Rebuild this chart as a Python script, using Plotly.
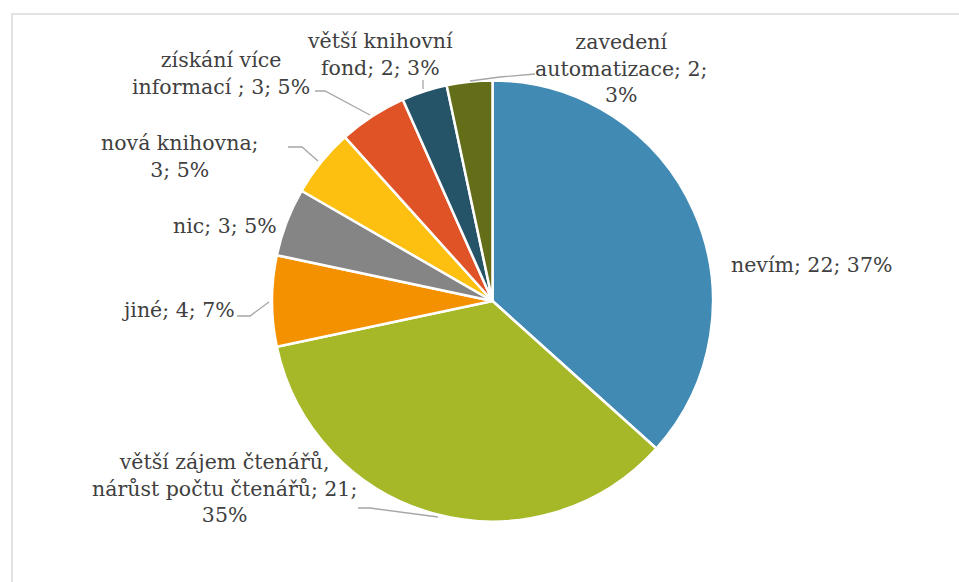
import plotly.graph_objects as go

# ---- data ----
categories = ["nevím", "větší zájem čtenářů,<br>nárůst počtu čtenářů", "jiné", "nic",
              "nová knihovna", "získání více<br>informací ", "větší knihovní<br>fond",
              "zavedení<br>automatizace"]
values = [22, 21, 4, 3, 3, 3, 2, 2]
colors = ["#418AB3", "#A6B727", "#F49100", "#858585", "#FDC010", "#DF5327", "#255469", "#646E18"]
# how each label is broken over lines: {c}=category, {v}=value, {p}=percent
templates = ["{c}; {v}; {p}%", "{c}; {v};<br>{p}%", "{c}; {v}; {p}%", "{c}; {v}; {p}%",
             "{c};<br>{v}; {p}%", "{c}; {v}; {p}%", "{c}; {v}; {p}%", "{c}; {v};<br>{p}%"]

W, H = 959, 582
total = sum(values)
texts = [t.format(c=c, v=v, p=round(v / total * 100)) for t, c, v in zip(templates, categories, values)]

# label centre positions (pixels)
label_pos = [(811, 265), (224, 488), (178, 310), (225, 226), (180, 157), (221, 73), (380, 54), (621, 68)]
# leader lines (pixels)
leaders = [None,
           [(358, 508), (370, 508), (438, 517)],
           [(237, 316), (250, 316), (269, 302)],
           None,
           [(288, 147), (302, 147), (318, 161)],
           [(315, 91), (325, 91), (370, 115)],
           [(423, 80), (423, 89)],
           [(535, 74), (500, 77), (470, 81)]]

cx, cy, r = 492.5, 301, 220.5

fig = go.Figure(go.Pie(
    labels=[c.replace("<br>", " ") for c in categories], values=values,
    marker=dict(colors=colors, line=dict(color="white", width=2.5)),
    sort=False, direction="clockwise", rotation=0,
    textinfo="none", hoverinfo="label+value+percent", showlegend=False,
    domain=dict(x=[(cx - r) / W, (cx + r) / W], y=[1 - (cy + r) / H, 1 - (cy - r) / H]),
))

font = dict(family="DejaVu Serif", size=20.5, color="#404040")
annotations = []
for t, (px, py) in zip(texts, label_pos):
    annotations.append(dict(text=t, x=px / W, y=1 - py / H, xref="paper", yref="paper",
                            showarrow=False, xanchor="center", yanchor="middle", font=font,
                            align="center"))

shapes = [dict(type="rect", xref="paper", yref="paper", x0=12 / W, y0=-0.1, x1=1.1, y1=1 - 14 / H,
               line=dict(color="#D9D9D9", width=1.5), fillcolor="rgba(0,0,0,0)", layer="below")]
for pts in leaders:
    if not pts:
        continue
    path = "M " + " L ".join(f"{x / W},{1 - y / H}" for x, y in pts)
    shapes.append(dict(type="path", path=path, xref="paper", yref="paper",
                       line=dict(color="#A6A6A6", width=1.3)))

fig.update_layout(width=W, height=H, margin=dict(l=0, r=0, t=0, b=0),
                  paper_bgcolor="white", plot_bgcolor="white",
                  annotations=annotations, shapes=shapes)

fig.write_html("out.html", config={"displayModeBar": False},
               post_script="document.body.style.margin='0px';document.body.style.overflow='hidden';")
